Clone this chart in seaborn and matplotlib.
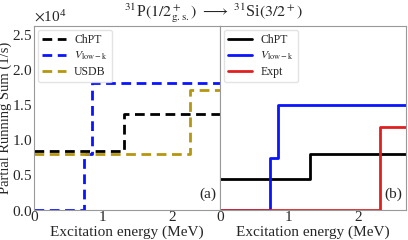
import numpy as np
import pandas as pd
import matplotlib
matplotlib.use("Agg")
import matplotlib.pyplot as plt
import seaborn as sns
from matplotlib.ticker import MultipleLocator

sns.set_style("white")
plt.rcParams['font.family'] = ['Liberation Serif', 'DejaVu Sans']
plt.rcParams['mathtext.fontset'] = 'stix'

# Data (running sums, units of 1e4 1/s), energies in MeV
x_end = 3.0
chpt_a_E = [0.0, 1.30]
chpt_a_S = [0.84, 1.37]
vlk_a_E = [0.0, 0.72, 0.84]
vlk_a_S = [0.0, 0.80, 1.81]
usdb_a_E = [0.0, 2.27]
usdb_a_S = [0.80, 1.71]

chpt_b_E = [0.0, 1.30]
chpt_b_S = [0.44, 0.80]
vlk_b_E = [0.0, 0.72, 0.84]
vlk_b_S = [0.0, 0.74, 1.50]
expt_b_E = [0.0, 2.32]
expt_b_S = [0.0, 1.18]

def df(E, S, name):
    return pd.DataFrame({"E": list(E) + [x_end],
                         "S": [s * 1e4 for s in list(S) + [S[-1]]],
                         "model": name})

vlk_label = r"$V_{\rm low-k}$"

fig = plt.figure(figsize=(4.08, 2.4), dpi=100)
axa = fig.add_axes([34/408, 30/240, 186/408, 184/240])
axb = fig.add_axes([220/408, 30/240, 186/408, 184/240], sharey=axa)

for E, S, name, col in [(chpt_a_E, chpt_a_S, "ChPT", "black"),
                        (vlk_a_E, vlk_a_S, vlk_label, "#0a14ff"),
                        (usdb_a_E, usdb_a_S, "USDB", "#b5960f")]:
    sns.lineplot(data=df(E, S, name), x="E", y="S", ax=axa, color=col,
                 label=name, drawstyle="steps-post", lw=2, linestyle=(0, (3.5, 2)))

for E, S, name, col in [(chpt_b_E, chpt_b_S, "ChPT", "black"),
                        (vlk_b_E, vlk_b_S, vlk_label, "#0a14ff"),
                        (expt_b_E, expt_b_S, "Expt", "#e02020")]:
    sns.lineplot(data=df(E, S, name), x="E", y="S", ax=axb, color=col,
                 label=name, drawstyle="steps-post", lw=2)

for ax in (axa, axb):
    ax.set_xlim(0, 2.7)
    ax.set_ylim(0, 2.62e4)
    ax.xaxis.set_major_locator(MultipleLocator(1))
    ax.xaxis.set_minor_locator(MultipleLocator(0.2))
    ax.yaxis.set_major_locator(MultipleLocator(5000))
    ax.yaxis.set_minor_locator(MultipleLocator(1000))
    ax.tick_params(which='both', direction='in', color='#999999', labelsize=11, pad=1)
    ax.tick_params(which='major', length=3)
    ax.tick_params(which='minor', length=1.5)
    ax.set_xlabel("Excitation energy (MeV)", fontsize=11, labelpad=1)
    for sp in ax.spines.values():
        sp.set_color('#999999')
        sp.set_linewidth(0.8)
    leg = ax.legend(loc="upper left", fontsize=8.5, frameon=True, handlelength=2.0,
                    borderpad=0.35, labelspacing=0.3, handletextpad=0.7,
                    borderaxespad=0.35)
    leg.get_frame().set_edgecolor('#dddddd')

axa.ticklabel_format(axis='y', style='sci', scilimits=(4, 4), useMathText=True)
axa.yaxis.get_offset_text().set_fontsize(11)
axa.set_ylabel("Partial Running Sum (1/s)", fontsize=10.5, labelpad=0)
axb.set_ylabel("")
axb.tick_params(axis='y', labelleft=False)
axb.yaxis.get_offset_text().set_visible(False)

axa.text(0.98, 0.05, "(a)", transform=axa.transAxes, ha='right', va='bottom', fontsize=11)
axb.text(0.98, 0.05, "(b)", transform=axb.transAxes, ha='right', va='bottom', fontsize=11)

fig.text(0.523, 0.995, r"$^{31}$P$(1/2^+_{\rm g.s.})$ $\longrightarrow$ $^{31}$Si$(3/2^+)$",
         ha='center', va='top', fontsize=11.5)

fig.savefig("out.png", dpi=100)
